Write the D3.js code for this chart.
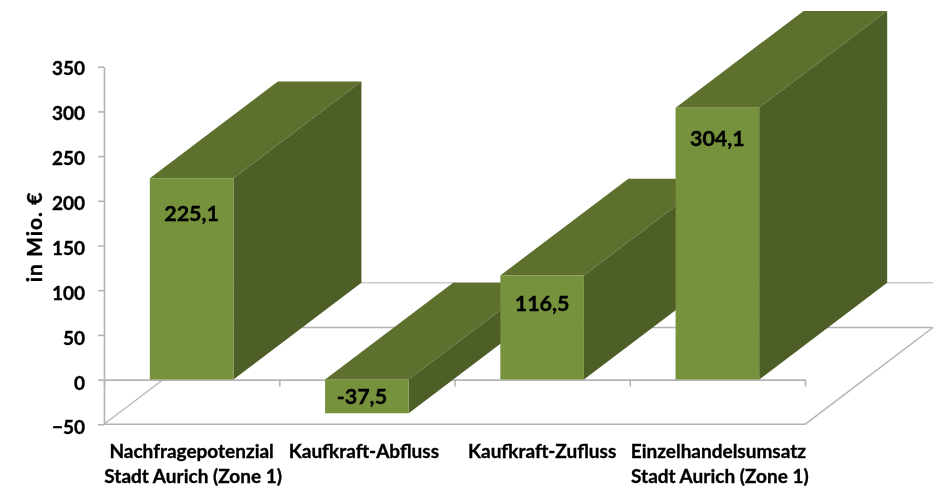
<!DOCTYPE html>
<html><head><meta charset="utf-8">
<script src="https://cdnjs.cloudflare.com/ajax/libs/d3/7.8.5/d3.min.js"></script>
<style>
html,body{margin:0;padding:0;background:#fff}
svg{display:block;filter:blur(0.45px)}
text{font-family:Lato,"Open Sans",sans-serif;font-weight:700;fill:#000;stroke:#000;stroke-width:0.35px}
</style></head><body><svg id="c" width="935" height="486"></svg>
<script>
const categories = ["Nachfragepotenzial|Stadt Aurich (Zone 1)", "Kaufkraft-Abfluss", "Kaufkraft-Zufluss", "Einzelhandelsumsatz|Stadt Aurich (Zone 1)"];
const values = [225.1, -37.5, 116.5, 304.1];
const yTicks = [-50, 0, 50, 100, 150, 200, 250, 300, 350];
const axisTitle = "in Mio. €";

const depthX = 128, depthY = -96.8;
const labelDx = [0, -5, 0, 0], labelDy = [35, 16, 28, 30];
const catDx = [0, -3, 0, 1];

const svg = d3.select("#c");
const y = d3.scaleLinear().domain([-50, 350]).range([424.3, 66.7]);
const x = d3.scaleBand().domain(categories).range([104, 805]).paddingInner(0.523).paddingOuter(0.2615);
const edges = d3.scaleLinear().domain([0, 4]).range([104, 805]);
const gray = "#b4b4b4";
const line = (a, b, w = 1.2) => svg.append("line").attr("x1", a[0]).attr("y1", a[1]).attr("x2", b[0]).attr("y2", b[1]).attr("stroke", gray).attr("stroke-width", w);

// floor and back edges
const fl = [104, y(-50)], fr = [805, y(-50)];
const bk = p => [p[0] + depthX, p[1] + depthY];
line(fl, bk(fl));
line(fr, bk(fr), 1.5);
line(fl, fr, 1.6);
line(bk(fl), bk(fr), 1.5);
line(bk([104, y(0)]), bk([805, y(0)]), 1);

// axes
const yAxis = svg.append("g").attr("transform", "translate(104,0)")
  .call(d3.axisLeft(y).tickValues(yTicks).tickFormat(d3.format("d")).tickSize(6).tickSizeOuter(0).tickPadding(13));
const edgeAxis = svg.append("g").attr("transform", `translate(0,${y(0)})`)
  .call(d3.axisBottom(edges).ticks(4).tickFormat("").tickSize(7).tickSizeOuter(0));
[yAxis, edgeAxis].forEach(g => {
  g.selectAll("path,line").attr("stroke", gray).attr("stroke-width", 1.6);
});
yAxis.selectAll("text").style("font-size", "19px").attr("font-family", null).attr("dy", "0.415em")
  .attr("y", d => 0.0045 * (350 - d));

// bars
const poly = (pts, fill) => svg.append("polygon").attr("points", pts.map(p => p.join(",")).join(" ")).attr("fill", fill);
values.forEach((v, i) => {
  const c = categories[i], l = x(c), r = l + x.bandwidth();
  const t = y(Math.max(v, 0)), b = y(Math.min(v, 0));
  poly([[l, t], [r, t], bk([r, t]), bk([l, t])], "#5e702e");
  poly([[r, t], [r, b], bk([r, b]), bk([r, t])], "#4e5e27");
  poly([[l, t], [r, t], [r, b], [l, b]], "#76923c");
  svg.append("text").attr("x", (l + r) / 2 + labelDx[i]).attr("y", t + labelDy[i])
    .attr("text-anchor", "middle").attr("dominant-baseline", "central").style("font-size", "21.5px")
    .text(String(v).replace(".", ","));
});

// category labels
const catAxis = svg.append("g").attr("transform", "translate(0,441)")
  .call(d3.axisBottom(x).tickSize(0).tickPadding(0).tickFormat(""));
catAxis.select("path").remove();
catAxis.selectAll(".tick").each(function (d, i) {
  const parts = d.split("|");
  const t = d3.select(this).select("text").attr("y", 0).attr("dy", null).attr("text-anchor", "middle").style("font-size", "19px");
  parts.forEach((p, k) => t.append("tspan").attr("x", catDx[i] + (k ? 1.5 : 0)).attr("y", 17 + k * 25).text(p));
});

// axis title
svg.append("text").attr("transform", "translate(33,237) rotate(-90)").attr("text-anchor", "middle")
  .attr("dominant-baseline", "central").style("font-size", "21px").style("letter-spacing", "1px").text(axisTitle);
</script></body></html>
